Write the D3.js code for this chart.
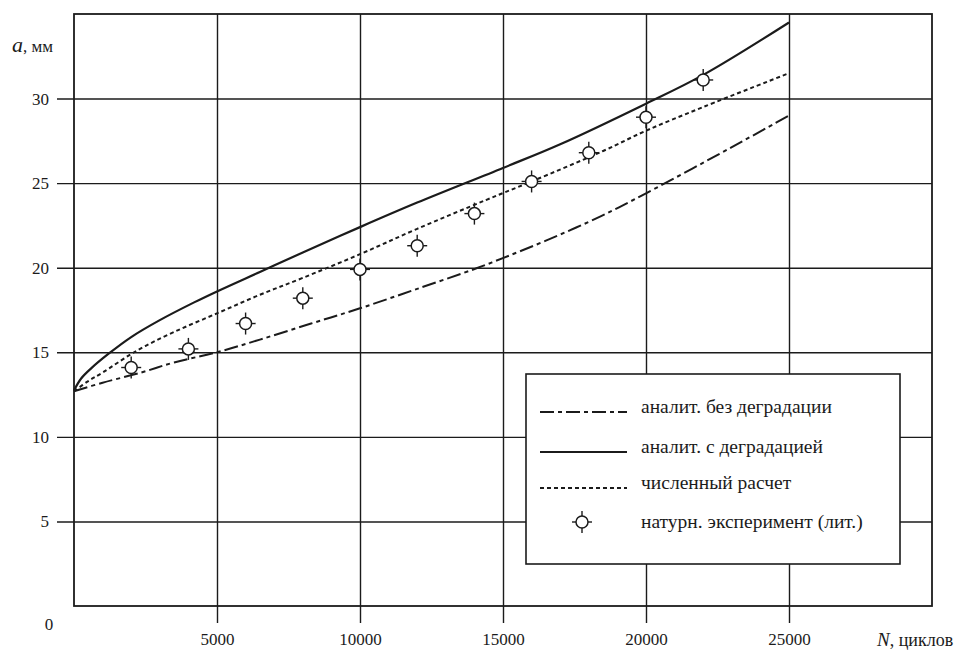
<html>
<script src="https://d3js.org/d3.v7.min.js"></script>
<style>
body{margin:0;background:#fff;}
svg text{font-family:"Liberation Serif","DejaVu Serif",serif;}
</style>
<body>
<div class="chart"></div>
</body>
<script>
const width = 969;
const height = 650;

// curves
const nNoDeg = [0, 1000, 2340, 3500, 5000, 6500, 8290, 10000, 12000, 14050, 15040, 16500, 18430, 20000, 22970, 25000];
const aNoDeg = [12.7, 13.2, 13.8, 14.4, 15.0, 15.75, 16.7, 17.6, 18.75, 19.95, 20.6, 21.6, 23.05, 24.4, 27.1, 29.0];

const nDeg = [0, 250, 600, 1200, 2000, 3000, 4200, 5000, 6500, 8000, 10000, 12000, 15000, 17000, 20000, 22000, 25000];
const aDeg = [12.75, 13.45, 14.05, 14.9, 15.9, 16.9, 17.95, 18.6, 19.75, 20.9, 22.4, 23.85, 25.9, 27.3, 29.7, 31.4, 34.5];

const nNum = [0, 500, 1000, 2200, 3500, 5000, 6500, 8000, 10000, 12000, 14400, 16000, 18500, 20000, 22000, 25000];
const aNum = [12.7, 13.3, 13.8, 15.1, 16.2, 17.3, 18.4, 19.4, 20.8, 22.3, 24.0, 25.1, 26.9, 28.1, 29.5, 31.5];

const expN = [2000, 4000, 6000, 8000, 10000, 12000, 14000, 16000, 18000, 20000, 22000];
const expA = [14.1, 15.2, 16.7, 18.2, 19.9, 21.3, 23.2, 25.1, 26.8, 28.9, 31.1];

const xTicks = [5000, 10000, 15000, 20000, 25000];
const yTicks = [5, 10, 15, 20, 25, 30];
const legendLabels = ['аналит. без деградации', 'аналит. с деградацией', 'численный расчет', 'натурн. эксперимент (лит.)'];

const ink = '#1b1b1b';
const serif = '"Liberation Serif", "DejaVu Serif", serif';

const x = d3.scaleLinear().domain([0, 30000]).range([74, 932]);
const y = d3.scaleLinear().domain([0, 35]).range([606, 14]);

const svg = d3.select('.chart').append('svg')
    .attr('width', width)
    .attr('height', height)
    .attr('font-family', serif);

// vertical grid + labels
svg.append('g')
    .attr('transform', 'translate(0,623)')
    .call(d3.axisBottom(x).tickValues(xTicks).tickSize(-(623 - y(35))).tickPadding(10).tickFormat(d3.format('d')))
    .call(g => {
        g.attr('font-family', serif);
        g.select('.domain').remove();
        g.selectAll('line').attr('stroke', ink).attr('stroke-width', 1.4);
        g.selectAll('text').attr('fill', ink).attr('font-size', 17);
    });

// horizontal grid + labels
svg.append('g')
    .attr('transform', 'translate(57,0)')
    .call(d3.axisLeft(y).tickValues(yTicks).tickSize(-(x(30000) - 57)).tickPadding(8))
    .call(g => {
        g.attr('font-family', serif);
        g.select('.domain').remove();
        g.selectAll('line').attr('stroke', ink).attr('stroke-width', 1.4);
        g.selectAll('text').attr('fill', ink).attr('font-size', 17);
    });

// plot frame
svg.append('rect')
    .attr('x', x(0))
    .attr('y', y(35))
    .attr('width', x(30000) - x(0))
    .attr('height', y(0) - y(35))
    .attr('fill', 'none')
    .attr('stroke', ink)
    .attr('stroke-width', 1.8);

svg.append('text')
    .attr('x', 49).attr('y', 630)
    .attr('text-anchor', 'middle')
    .attr('font-size', 17)
    .attr('fill', ink)
    .text('0');

// axis titles
const yTitle = svg.append('text').attr('x', 12).attr('y', 52).attr('fill', ink);
yTitle.append('tspan').attr('font-style', 'italic').attr('font-size', 22).text('a');
yTitle.append('tspan').attr('font-size', 17).text(', мм');

const xTitle = svg.append('text').attr('x', 877).attr('y', 646).attr('fill', ink);
xTitle.append('tspan').attr('font-style', 'italic').attr('font-size', 19).text('N');
xTitle.append('tspan').attr('font-size', 18).text(', циклов');

const line = d3.line()
    .curve(d3.curveCatmullRom.alpha(0.5))
    .x(d => x(d[0]))
    .y(d => y(d[1]));

const series = [
    {n: nNoDeg, a: aNoDeg, dash: '14,4,4,4', width: 2},
    {n: nDeg, a: aDeg, dash: null, width: 2.2},
    {n: nNum, a: aNum, dash: '4,3', width: 2}
];

svg.selectAll('path.curve')
    .data(series)
    .enter()
    .append('path')
        .attr('class', 'curve')
        .attr('d', d => line(d.n.map((v, i) => [v, d.a[i]])))
        .attr('fill', 'none')
        .attr('stroke', ink)
        .attr('stroke-width', d => d.width)
        .attr('stroke-dasharray', d => d.dash);

const marker = (g) => {
    g.append('circle').attr('r', 6).attr('fill', '#fff').attr('stroke', ink).attr('stroke-width', 1.5);
    [[0, -6, 0, -11], [0, 6, 0, 11], [-6, 0, -10, 0], [6, 0, 10, 0]].forEach(s => {
        g.append('line')
            .attr('x1', s[0]).attr('y1', s[1]).attr('x2', s[2]).attr('y2', s[3])
            .attr('stroke', ink).attr('stroke-width', 1.4);
    });
};

svg.selectAll('g.exp')
    .data(expN.map((v, i) => [v, expA[i]]))
    .enter()
    .append('g')
        .attr('class', 'exp')
        .attr('transform', d => `translate(${x(d[0])},${y(d[1])})`)
        .each(function(){ marker(d3.select(this)); });

// legend
const legend = svg.append('g');
legend.append('rect')
    .attr('x', 526).attr('y', 374)
    .attr('width', 374).attr('height', 190)
    .attr('fill', '#fff')
    .attr('stroke', ink)
    .attr('stroke-width', 1.6);

const rowY = [407, 447, 483, 522];
legendLabels.forEach((label, i) => {
    if (i < 3) {
        legend.append('line')
            .attr('x1', 540).attr('x2', 627)
            .attr('y1', rowY[i] + 5).attr('y2', rowY[i] + 5)
            .attr('stroke', ink)
            .attr('stroke-width', series[i].width)
            .attr('stroke-dasharray', series[i].dash);
    } else {
        legend.append('g')
            .attr('transform', `translate(582,${rowY[i]})`)
            .call(marker);
    }
    legend.append('text')
        .attr('x', 641).attr('y', rowY[i])
        .attr('dy', '0.32em')
        .attr('font-size', 19.5)
        .attr('fill', ink)
        .text(label);
});
</script>
</html>
